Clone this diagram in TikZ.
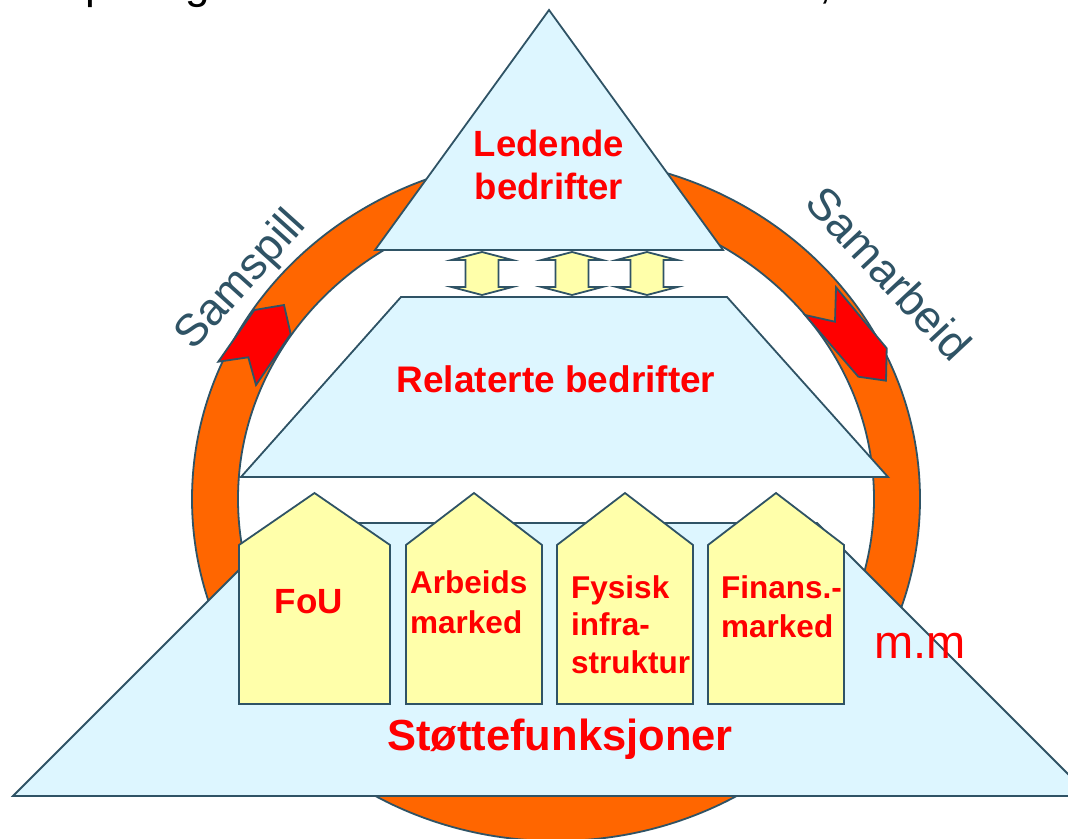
\documentclass[tikz,border=0pt]{standalone}
\usepackage{fontspec}
\setmainfont{Liberation Sans}
\definecolor{outlc}{RGB}{47,83,101}
\definecolor{lightblue}{RGB}{221,246,255}
\definecolor{ringorange}{RGB}{255,102,0}
\definecolor{houseyellow}{RGB}{255,255,170}
\definecolor{redtxt}{RGB}{255,0,0}
\tikzset{
  outl/.style={draw=outlc, line width=1.8pt, line join=miter},
  bluebox/.style={outl, fill=lightblue},
  housebox/.style={outl, fill=houseyellow},
  redlbl/.style={text=redtxt, inner sep=0pt},
  ringlbl/.style={text=outlc, inner sep=0pt, font=\fontsize{45}{52}\selectfont},
  titlefrag/.style={text=black, inner sep=0pt, anchor=base west, font=\fontsize{44}{52}\selectfont},
}
\begin{document}
\begin{tikzpicture}[x=1pt,y=-1pt]
\clip (0,0) rectangle (1068,838);
% title fragments (cut off at the top)
\node[titlefrag] (t1) at (85,-2) {p};
\node[titlefrag] (t2) at (185,-2) {g};
\node[titlefrag] (t3) at (819,-2) {,};
% ring
\path[fill=ringorange, even odd rule, outl]
  (556,499) ellipse [x radius=364, y radius=342]
  (556,499) ellipse [x radius=318, y radius=296];
% red chevrons on ring
\path[outl, fill=redtxt] (254.3,310) -- (284,305) -- (290.7,334) -- (256,385) -- (248.3,357.3) -- (218.3,361.7) -- cycle;
\path[outl, fill=redtxt] (805,315) -- (835,321.7) -- (836,287.3) -- (886.7,348.3) -- (886,380.7) -- (858.3,376.7) -- cycle;
% top triangle
\path[bluebox] (549,10) -- (723,250) -- (375,250) -- cycle;
% trapezoid
\path[bluebox] (401,297) -- (727,297) -- (888,477) -- (241,477) -- cycle;
% double arrows
\foreach \cx in {482,572,647}{
  \path[outl, fill=houseyellow] (\cx,252) -- (\cx+30.5,260) -- (\cx+16.5,260) -- (\cx+16.5,287) -- (\cx+30.5,287) -- (\cx,295)
    -- (\cx-30.5,287) -- (\cx-16.5,287) -- (\cx-16.5,260) -- (\cx-30.5,260) -- cycle;
}
% bottom triangle
\path[bluebox] (13,796) -- (286,523) -- (817,523) -- (1090,796) -- cycle;
% houses
\path[housebox] (239,704) -- (239,545) -- (314.5,493) -- (390,545) -- (390,704) -- cycle;
\path[housebox] (406,704) -- (406,545) -- (474,493) -- (542,545) -- (542,704) -- cycle;
\path[housebox] (557,704) -- (557,545) -- (625,493) -- (693,545) -- (693,704) -- cycle;
\path[housebox] (708,704) -- (708,545) -- (776,493) -- (844,545) -- (844,704) -- cycle;
% labels
\node[redlbl, align=center, anchor=north, font=\fontsize{36.5}{43}\selectfont\bfseries] (led) at (549,130) {Ledende\\bedrifter};
\node[redlbl, anchor=base, font=\fontsize{37}{43}\selectfont\bfseries] (rel) at (556,392) {Relaterte bedrifter};
\node[redlbl, anchor=base, font=\fontsize{43.5}{52}\selectfont\bfseries] (stf) at (560,750) {Støttefunksjoner};
\node[redlbl, anchor=base, font=\fontsize{35}{42}\selectfont\bfseries] (fou) at (309,613) {FoU};
\node[redlbl, align=left, anchor=north west, font=\fontsize{31.5}{40}\selectfont\bfseries] (arb) at (410,570) {Arbeids\\marked};
\node[redlbl, align=left, anchor=north west, font=\fontsize{31.5}{37.5}\selectfont\bfseries] (fys) at (571,575) {Fysisk\\infra-\\struktur};
\node[redlbl, align=left, anchor=north west, font=\fontsize{31.5}{39}\selectfont\bfseries] (fin) at (721,575) {Finans.-\\marked};
\node[redlbl, anchor=base west, font=\fontsize{47}{54}\selectfont] (mm) at (874,658) {m.m};
\node[ringlbl, rotate=48] (samspill) at (242,281) {Samspill};
\node[ringlbl, rotate=-47] (samarbeid) at (889,273) {Samarbeid};
\end{tikzpicture}
\end{document}
